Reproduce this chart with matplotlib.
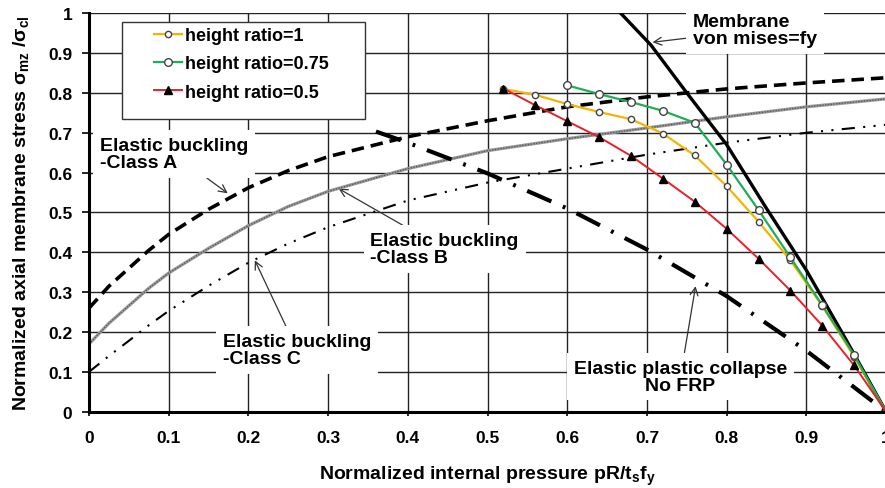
import numpy as np
import matplotlib
matplotlib.use("Agg")
import matplotlib.pyplot as plt
from matplotlib.patches import Rectangle

plt.rcParams['font.family'] = ['Liberation Sans', 'DejaVu Sans']
plt.rcParams['font.weight'] = 'bold'
plt.rcParams['mathtext.fontset'] = 'custom'
plt.rcParams['mathtext.rm'] = 'Liberation Sans:bold'
plt.rcParams['mathtext.it'] = 'Liberation Sans:bold'
plt.rcParams['mathtext.bf'] = 'Liberation Sans:bold'
plt.rcParams['lines.scale_dashes'] = False

# ticks
ticks = [0, 0.1, 0.2, 0.3, 0.4, 0.5, 0.6, 0.7, 0.8, 0.9, 1.0]
tick_labels = ['0', '0.1', '0.2', '0.3', '0.4', '0.5', '0.6', '0.7', '0.8', '0.9', '1']

# elastic buckling curves (quality classes A, B, C)
x_buck = [0, 0.025, 0.05, 0.075, 0.1, 0.15, 0.2, 0.25, 0.3, 0.4, 0.5, 0.6, 0.7, 0.8, 0.9, 1.0]
class_a = [0.26, 0.315, 0.36, 0.405, 0.445, 0.508, 0.562, 0.605, 0.64, 0.69, 0.73,
           0.765, 0.79, 0.81, 0.825, 0.838]
class_b = [0.17, 0.222, 0.266, 0.31, 0.348, 0.41, 0.467, 0.515, 0.553, 0.61, 0.655,
           0.685, 0.712, 0.74, 0.765, 0.785]
class_c = [0.10, 0.14, 0.178, 0.217, 0.253, 0.316, 0.374, 0.422, 0.463, 0.53, 0.575,
           0.61, 0.645, 0.675, 0.70, 0.72]

# membrane von mises yield
x_mises = [0.667, 0.705, 0.75, 0.80, 0.85, 0.90, 0.95, 1.0]
y_mises = [1.0, 0.92, 0.80, 0.67, 0.51, 0.355, 0.18, 0.0]

# elastic plastic collapse, no FRP
x_epc = [0.36, 0.4, 0.5, 0.6, 0.7, 0.8, 0.9, 1.0]
y_epc = [0.703, 0.675, 0.598, 0.51, 0.407, 0.29, 0.153, 0.0]

# FRP strengthened results
x_h1 = [0.52, 0.56, 0.60, 0.64, 0.68, 0.72, 0.76, 0.80, 0.84, 0.88, 0.92, 0.96, 1.00]
y_h1 = [0.81, 0.795, 0.772, 0.752, 0.734, 0.698, 0.643, 0.566, 0.477, 0.38, 0.265, 0.138, 0.0]
x_h075 = [0.60, 0.64, 0.68, 0.72, 0.76, 0.80, 0.84, 0.88, 0.92, 0.96, 1.00]
y_h075 = [0.819, 0.797, 0.777, 0.755, 0.725, 0.62, 0.506, 0.387, 0.267, 0.142, 0.0]
x_h05 = [0.52, 0.56, 0.60, 0.64, 0.68, 0.72, 0.76, 0.80, 0.84, 0.88, 0.92, 0.96, 1.00]
y_h05 = [0.811, 0.769, 0.729, 0.689, 0.642, 0.585, 0.527, 0.459, 0.384, 0.304, 0.216, 0.116, 0.0]

fig = plt.figure(figsize=(8.85, 4.89), dpi=100)
ax = fig.add_axes([0.1006, 0.156, 0.9006, 0.815])

ax.set_xlim(0, 1)
ax.set_ylim(0, 1)
ax.set_xticks(ticks)
ax.set_xticklabels(tick_labels)
ax.set_yticks(ticks)
ax.set_yticklabels(tick_labels)
ax.tick_params(axis='both', labelsize=12.5, width=1.2, color='black')
ax.tick_params(axis='x', length=3, pad=10)
ax.tick_params(axis='y', length=5, pad=7)
ax.grid(True, color='#222222', lw=1.0)
ax.set_axisbelow(True)
for s in ['top', 'right']:
    ax.spines[s].set_visible(False)
for s in ['left', 'bottom']:
    ax.spines[s].set_linewidth(2.2)
    ax.spines[s].set_zorder(6)

# reference curves
ax.plot(x_buck, class_a, color='black', lw=2.6, dashes=(9, 5), zorder=3)
ax.plot(x_buck, class_b, color='#9a9a9a', lw=2.3, zorder=3)
ax.plot(x_buck, class_b, color='#555555', lw=0.9, dashes=(1, 1), zorder=3)
ax.plot(x_buck, class_c, color='black', lw=1.5, dashes=(9.5, 6, 1.5, 6, 1.5, 6), zorder=3)
ax.plot(x_mises, y_mises, color='black', lw=2.4, zorder=3)
ax.plot(x_epc, y_epc, color='black', lw=3.0, dashes=(19, 9, 2, 9), zorder=3)

# test series
ax.plot(x_h1, y_h1, color='#f5b400', lw=1.6, marker='o', ms=4.5, mfc='white',
        mec='#444444', mew=1.0, label='height ratio=1', zorder=4)
ax.plot(x_h075, y_h075, color='#1fae55', lw=1.6, marker='o', ms=5.5, mfc='white',
        mec='#444444', mew=1.0, label='height ratio=0.75', zorder=4)
ax.plot(x_h05, y_h05, color='#e8202a', lw=1.4, marker='^', ms=5.5, mfc='black',
        mec='black', label='height ratio=0.5', zorder=5)

box = dict(boxstyle='square,pad=0.35', fc='white', ec='none')
arr = dict(arrowstyle='->', color='#333333', lw=0.9, shrinkA=0, shrinkB=0)
fs = 14

ax.annotate('Membrane\nvon mises=fy', xy=(0.707, 0.927), xytext=(0.758, 0.958),
            fontsize=fs, ha='left', va='center', linespacing=1.0, bbox=box,
            arrowprops=arr, zorder=2, annotation_clip=False)
ax.annotate('Elastic buckling\n-Class A', xy=(0.174, 0.548), xytext=(0.014, 0.646),
            fontsize=fs, ha='left', va='center', linespacing=1.0, bbox=box,
            arrowprops=arr, zorder=2)
ax.annotate('Elastic buckling\n-Class B', xy=(0.313, 0.56), xytext=(0.353, 0.408),
            fontsize=fs, ha='left', va='center', linespacing=1.0, bbox=box,
            arrowprops=arr, zorder=2)
ax.annotate('Elastic buckling\n-Class C', xy=(0.208, 0.38), xytext=(0.168, 0.155),
            fontsize=fs, ha='left', va='center', linespacing=1.0, bbox=box,
            arrowprops=arr, zorder=2)
ax.annotate('Elastic plastic collapse\nNo FRP', xy=(0.761, 0.315), xytext=(0.742, 0.088),
            fontsize=fs, ha='center', va='center', linespacing=1.0, bbox=box,
            arrowprops=arr, zorder=2)

# legend panel
ax.add_patch(Rectangle((0.0414, 0.734), 0.305, 0.243, transform=ax.transAxes,
                       fc='white', ec='#333333', lw=1.0, zorder=7))
leg = ax.legend(loc='upper left', bbox_to_anchor=(0.081, 0.965), frameon=False,
                fontsize=13, handlelength=1.6, handletextpad=0.15,
                labelspacing=0.62, borderpad=0, borderaxespad=0)
leg.set_zorder(8)

ax.set_xlabel('Normalized internal pressure pR/t$_s$f$_y$', fontsize=14,
              fontweight='bold', labelpad=14)
ax.set_ylabel(r'Normalized axial membrane stress $\sigma_{mz}$ /$\sigma_{cl}$',
              fontsize=14, fontweight='bold', labelpad=12)

fig.savefig('out.png', dpi=100)
